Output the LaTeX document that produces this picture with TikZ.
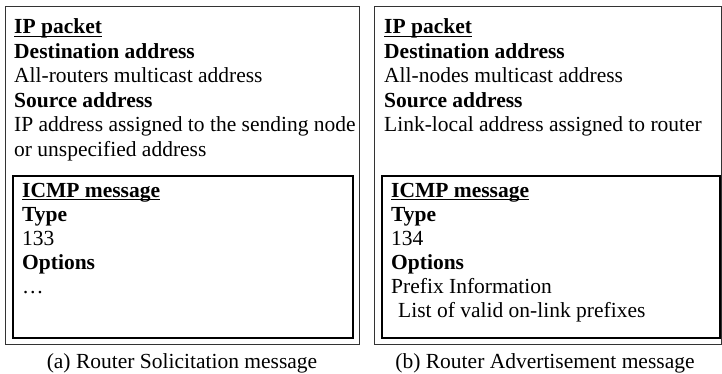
\documentclass[tikz,border=0pt]{standalone}
\usepackage{fontspec}
\setmainfont{Liberation Serif}
% underline set just under the baseline, crossing the descenders
\newcommand\ulword[1]{\setbox0\hbox{#1}\rlap{\rule[-3.2pt]{\wd0}{1.3pt}}\box0}
\begin{document}
\begin{tikzpicture}[x=1pt,y=-1pt,
  txt/.style={anchor=base west,inner sep=0pt,font=\fontsize{21.5}{24}\selectfont},
  hd/.style={txt,font=\fontsize{21.5}{24}\selectfont\bfseries},
  captiontext/.style={anchor=base,inner sep=0pt,font=\fontsize{21.5}{24}\selectfont},
  outerbox/.style={draw=black!80,line width=1pt},
  innerbox/.style={draw=black,line width=1.6pt}]
\useasboundingbox (0,0) rectangle (722,374);

% ---- (a) Router Solicitation ----
\draw[outerbox] (5,7) rectangle (359,344);
\draw[innerbox] (13,176) rectangle (353,338);
\node[hd]  (a1) at (14,34)    {\ulword{IP packet}};
\node[hd]  (a2) at (14,58.5)  {Destination address};
\node[txt] (a3) at (14,83)    {All-routers multicast address};
\node[hd]  (a4) at (14,107.5) {Source address};
\node[txt] (a5) at (14,132)   {IP address assigned to the sending node};
\node[txt] (a6) at (14,156.5) {or unspecified address};
\node[hd]  (a7) at (22,197)   {\ulword{ICMP message}};
\node[hd]  (a8) at (22,221)   {Type};
\node[txt] (a9) at (22,245)   {133};
\node[hd]  (a10) at (22,269)  {Options};
\node[txt] (a11) at (22,293)  {\ldots};
\node[captiontext] (acap) at (182,368) {(a) Router Solicitation message};

% ---- (b) Router Advertisement ----
\draw[outerbox] (374,7) rectangle (721.5,344);
\draw[innerbox] (382,176) rectangle (720,338);
\node[hd]  (b1) at (384,34)    {\ulword{IP packet}};
\node[hd]  (b2) at (384,58.5)  {Destination address};
\node[txt] (b3) at (384,83)    {All-nodes multicast address};
\node[hd]  (b4) at (384,107.5) {Source address};
\node[txt] (b5) at (384,132)   {Link-local address assigned to router};
\node[hd]  (b7) at (391,197)   {\ulword{ICMP message}};
\node[hd]  (b8) at (391,221)   {Type};
\node[txt] (b9) at (391,245)   {134};
\node[hd]  (b10) at (391,269)  {Options};
\node[txt] (b11) at (391,293)  {Prefix Information};
\node[txt] (b12) at (398,317)  {List of valid on-link prefixes};
\node[captiontext] (bcap) at (545,368) {(b) Router Advertisement message};
\end{tikzpicture}
\end{document}
